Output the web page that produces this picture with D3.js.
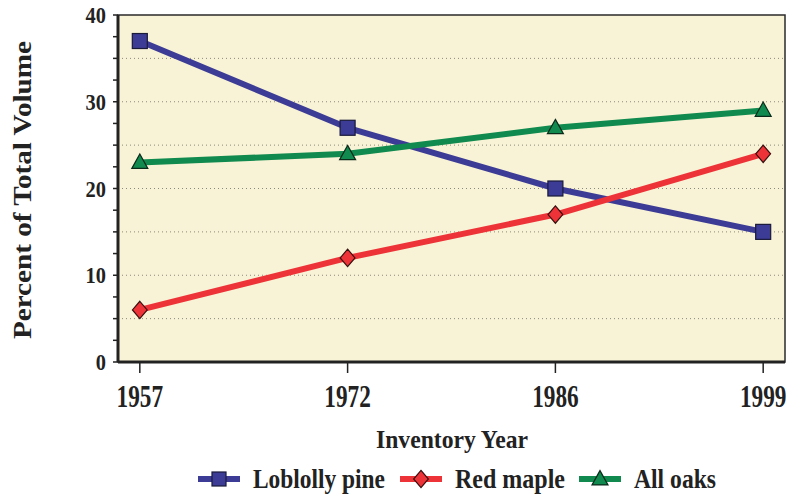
<!DOCTYPE html>
<html><head><meta charset="utf-8">
<script src="https://cdn.jsdelivr.net/npm/d3@7"></script>
<style>body{margin:0;background:#fff}svg{display:block}</style>
</head><body><svg id="c" width="789" height="495"></svg>
<script>
const years = ["1957","1972","1986","1999"];
const loblolly = [37,27,20,15];
const redMaple = [6,12,17,24];
const allOaks = [23,24,27,29];
const yTicks = [0,10,20,30,40];
const seriesNames = ["Loblolly pine","Red maple","All oaks"];
const seriesColors = ["#3c3b95","#ee3338","#108a4e"];
const seriesShapes = ["square","diamond","triangle"];
const seriesData = [loblolly, redMaple, allOaks];

const svg = d3.select("#c");
const m = {l:118, t:15, r:785, b:362};
const x = d3.scalePoint().domain(years).range([m.l, m.r]).padding(0.105);
const y = d3.scaleLinear().domain([0,40]).range([m.b, m.t]);
const font = "'Liberation Serif','Times New Roman',serif";

function ctext(g, txt, size, sx, anchor){
  return g.append("text").text(txt).attr("font-family",font).attr("font-weight","bold")
    .attr("font-size",size).attr("fill","#222").attr("text-anchor",anchor||"middle")
    .attr("transform",`scale(${sx},1)`);
}
function fitText(g, txt, size, len, anchor){
  return g.append("text").text(txt).attr("font-family",font).attr("font-weight","bold")
    .attr("font-size",size).attr("fill","#222").attr("text-anchor",anchor||"middle")
    .attr("textLength",len).attr("lengthAdjust","spacingAndGlyphs");
}

svg.append("rect").attr("x",m.l).attr("y",m.t).attr("width",m.r-m.l).attr("height",m.b-m.t)
  .attr("fill","#f8f3d6");
d3.range(5,40,5).forEach(v=>{
  svg.append("line").attr("x1",m.l).attr("x2",m.r).attr("y1",y(v)).attr("y2",y(v))
    .attr("stroke","#8a8a7a").attr("stroke-width",1).attr("stroke-dasharray","1,3");
});
svg.append("rect").attr("x",m.l).attr("y",m.t).attr("width",m.r-m.l).attr("height",m.b-m.t)
  .attr("fill","none").attr("stroke","#2a2a2a").attr("stroke-width",1.5);
svg.append("line").attr("x1",m.l).attr("x2",m.l).attr("y1",m.t).attr("y2",m.b).attr("stroke","#222").attr("stroke-width",3);
svg.append("line").attr("x1",m.l).attr("x2",m.r).attr("y1",m.b).attr("y2",m.b).attr("stroke","#222").attr("stroke-width",3);

d3.range(0,40.1,2.5).forEach(v=>{
  svg.append("line").attr("x1",m.l-5).attr("x2",m.l).attr("y1",y(v)).attr("y2",y(v)).attr("stroke","#222").attr("stroke-width",1.5);
});
yTicks.forEach(v=>{
  const g = svg.append("g").attr("transform",`translate(${m.l-12},${y(v)+8})`);
  ctext(g, String(v), 24, 0.85, "end");
});
years.forEach(yr=>{
  svg.append("line").attr("x1",x(yr)).attr("x2",x(yr)).attr("y1",m.b).attr("y2",m.b+11).attr("stroke","#222").attr("stroke-width",1.5);
  const g = svg.append("g").attr("transform",`translate(${x(yr)},${m.b+45})`);
  ctext(g, yr, 31, 0.75, "middle");
});
{
  const g = svg.append("g").attr("transform",`translate(452,448)`);
  fitText(g, "Inventory Year", 26, 152, "middle");
  const g2 = svg.append("g").attr("transform",`translate(31,190) rotate(-90)`);
  fitText(g2, "Percent of Total Volume", 26, 298, "middle");
}

function marker(g, shape, cx, cy, color, s){
  if(shape==="square"){
    g.append("rect").attr("x",cx-s/2).attr("y",cy-s/2).attr("width",s).attr("height",s)
      .attr("fill",color).attr("stroke","#1a1a3a").attr("stroke-width",1.2);
  } else if(shape==="diamond"){
    const r=s*0.62;
    g.append("path").attr("d",`M${cx},${cy-r}L${cx+r*0.85},${cy}L${cx},${cy+r}L${cx-r*0.85},${cy}Z`)
      .attr("fill",color).attr("stroke","#3a1010").attr("stroke-width",1.2);
  } else {
    const r=s*0.6;
    g.append("path").attr("d",`M${cx},${cy-r}L${cx+r*0.95},${cy+r*0.7}L${cx-r*0.95},${cy+r*0.7}Z`)
      .attr("fill",color).attr("stroke","#0a2a1a").attr("stroke-width",1.2);
  }
}

const line = d3.line().x((d,i)=>x(years[i])).y(d=>y(d));
seriesData.forEach((data,k)=>{
  svg.append("path").datum(data).attr("d",line).attr("fill","none")
    .attr("stroke",seriesColors[k]).attr("stroke-width",6).attr("stroke-linejoin","round");
});
seriesData.forEach((data,k)=>{
  const g = svg.append("g");
  data.forEach((v,i)=>marker(g, seriesShapes[k], x(years[i]), y(v), seriesColors[k], k===0?15:14));
});

const legX = [198, 400, 579];
const legW = [132, 110, 82];
seriesNames.forEach((n,k)=>{
  const ly = 479;
  svg.append("line").attr("x1",legX[k]).attr("x2",legX[k]+42).attr("y1",ly).attr("y2",ly)
    .attr("stroke",seriesColors[k]).attr("stroke-width",6);
  marker(svg, seriesShapes[k], legX[k]+21, ly, seriesColors[k], 14);
  const g = svg.append("g").attr("transform",`translate(${legX[k]+55},${ly+9})`);
  fitText(g, n, 28, legW[k], "start");
});
</script></body></html>
